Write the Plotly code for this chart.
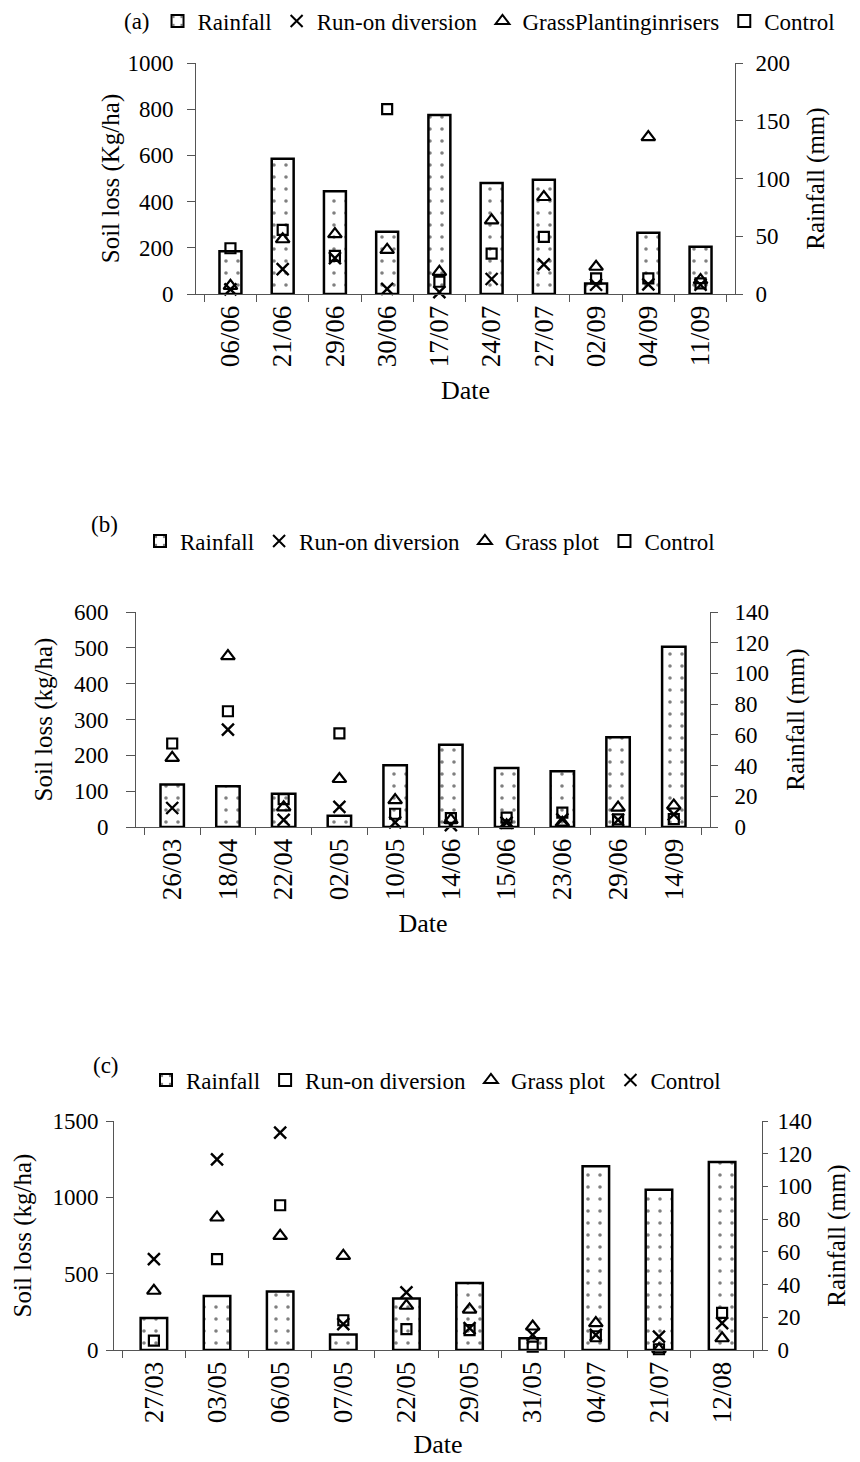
import plotly.graph_objects as go

# ---------------- data ----------------
dates_a = ["06/06", "21/06", "29/06", "30/06", "17/07", "24/07", "27/07", "02/09", "04/09", "11/09"]
rain_a = [37, 117, 89, 54, 155, 96, 99, 9, 53, 41]
runon_a = [20, 108, 155, 22, 8, 65, 128, 40, 42, 40]
grass_a = [35, 237, 259, 191, 96, 319, 420, 118, 679, 60]
control_a = [198, 278, 165, 800, 53, 175, 247, 68, 68, 46]

dates_b = ["26/03", "18/04", "22/04", "02/05", "10/05", "14/06", "15/06", "23/06", "29/06", "14/09"]
rain_b = [27.6, 26.5, 21.7, 7.4, 40.2, 53.6, 38.4, 36.3, 58.5, 117.3]
runon_b = [53, 272, 20, 56, 13, 5, 12, 21, 20, 35]
grass_b = [193, 477, 55, 134, 75, 20, 5, 12, 54, 60]
control_b = [233, 323, 78, 261, 37, 25, 26, 40, 21, 22]

dates_c = ["27/03", "03/05", "06/05", "07/05", "22/05", "29/05", "31/05", "04/07", "21/07", "12/08"]
rain_c = [19.5, 33, 35.8, 9.4, 31.5, 40.9, 7.2, 112.4, 97.9, 115]
runon_c = [61, 595, 948, 195, 137, 130, 22, 90, 5, 243]
grass_c = [388, 868, 748, 617, 290, 265, 154, 176, 5, 77]
control_c = [595, 1249, 1424, 170, 377, 143, 99, 99, 88, 176]

W, H = 860, 1462
FONT = "Liberation Serif, Times New Roman, serif"


def px(v):
    return v / W


def py(v):
    return 1 - v / H


def fnt(size):
    return dict(family=FONT, size=size, color="black")


fig = go.Figure()

bar_style = dict(
    marker=dict(color="white", line=dict(color="black", width=2.5),
                pattern=dict(shape=".", fgcolor="black", bgcolor="white", size=12, solidity=0.07)),
    width=0.42,
)
sq = dict(symbol="square-open", size=10, color="black", line=dict(width=2.2, color="black"))
tri = dict(symbol="triangle-up-open", size=12, color="black", line=dict(width=2.2, color="black"))
xx = dict(symbol="x-thin", size=12, color="black", line=dict(width=2.4, color="black"))

panels = [
    (dates_a, rain_a, [("Run-on diversion", runon_a, xx), ("GrassPlantinginrisers", grass_a, tri), ("Control", control_a, sq)], "legend", "x", "y", "y2"),
    (dates_b, rain_b, [("Run-on diversion", runon_b, xx), ("Grass plot", grass_b, tri), ("Control", control_b, sq)], "legend2", "x2", "y3", "y4"),
    (dates_c, rain_c, [("Run-on diversion", runon_c, sq), ("Grass plot", grass_c, tri), ("Control", control_c, xx)], "legend3", "x3", "y5", "y6"),
]

for dates, rain, series, leg, xa, ya_rain, ya_soil in panels:
    fig.add_trace(go.Bar(x=dates, y=rain, name="Rainfall", xaxis=xa, yaxis=ya_rain, legend=leg, **bar_style))
    for name, vals, mk in series:
        fig.add_trace(go.Scatter(x=dates, y=vals, name=name, mode="markers", marker=mk,
                                 xaxis=xa, yaxis=ya_soil, legend=leg, cliponaxis=False))

common = dict(showgrid=False, zeroline=False, showline=True, linecolor="#555", linewidth=1,
              ticks="outside", tickcolor="#555", tickwidth=1)

# panel geometry in pixels: (x0, x1, ytop, ybottom)
geo = [(196, 735, 63, 294), (136, 710, 612, 827), (114, 762, 1121, 1350)]
soil_ranges = [[0, 1000], [0, 600], [0, 1500]]
soil_ticks = [200, 100, 500]
rain_ranges = [[0, 200], [0, 140], [0, 140]]
rain_ticks = [50, 20, 20]
soil_titles = ["Soil loss (Kg/ha)", "Soil loss (kg/ha)", "Soil loss (kg/ha)"]
# (ticklen, label standoff, title standoff) left / right
left_cfg = [(8, 9, 0), (9, 13, 14), (7, 3, 13)]
right_cfg = [(7, 8, 17), (7, 12, 18), (5, 5, 16)]
date_standoff = [14, 14, 12]

lay = {}
for i in range(3):
    x0, x1, yt, yb = geo[i]
    xn = "xaxis" if i == 0 else f"xaxis{i + 1}"
    yr = "yaxis" if i == 0 else f"yaxis{2 * i + 1}"
    ys = f"yaxis{2 * i + 2}"
    yr_ref = "y" if i == 0 else f"y{2 * i + 1}"
    xref = "x" if i == 0 else f"x{i + 1}"
    lay[xn] = dict(domain=[px(x0), px(x1)], anchor=yr_ref, type="category", tickson="boundaries",
                   ticklen=7, tickangle=-90, tickfont=fnt(27),
                   title=dict(text="Date", font=fnt(26), standoff=date_standoff[i]), **common)
    lt, ls, lts = left_cfg[i]
    rt, rs, rts = right_cfg[i]
    lay[yr] = dict(domain=[py(yb), py(yt)], anchor=xref, side="right", range=rain_ranges[i],
                   dtick=rain_ticks[i], ticklen=rt, ticklabelstandoff=rs, tickfont=fnt(23),
                   title=dict(text="Rainfall (mm)", font=fnt(25), standoff=rts), **common)
    lay[ys] = dict(domain=[py(yb), py(yt)], anchor=xref, side="left", overlaying=yr_ref,
                   range=soil_ranges[i], dtick=soil_ticks[i], ticklen=lt, ticklabelstandoff=ls,
                   tickfont=fnt(23),
                   title=dict(text=soil_titles[i], font=fnt(25), standoff=lts), **common)

leg_common = dict(orientation="h", font=fnt(23), bgcolor="rgba(0,0,0,0)", itemwidth=30,
                  yanchor="middle", xanchor="left", tracegroupgap=0, itemsizing="constant")
lay["legend"] = dict(x=px(122), y=py(21), title=dict(text="(a)", side="left", font=fnt(23)), **leg_common)
lay["legend2"] = dict(x=px(140), y=py(541), **leg_common)
lay["legend3"] = dict(x=px(146), y=py(1080), **leg_common)

fig.update_layout(
    width=W, height=H, margin=dict(l=0, r=0, t=0, b=0, autoexpand=False),
    paper_bgcolor="white", plot_bgcolor="white",
    font=fnt(22),
    showlegend=True,
    annotations=[
        dict(text="(b)", x=px(89), y=py(525), xref="paper", yref="paper", showarrow=False, font=fnt(23)),
        dict(text="(c)", x=px(91), y=py(1080), xref="paper", yref="paper", showarrow=False, font=fnt(23)),
    ],
    **lay,
)

fig.write_html("out.html")
